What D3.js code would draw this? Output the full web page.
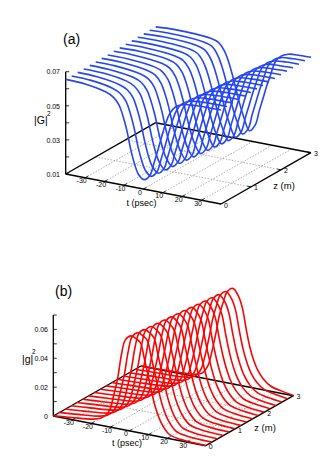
<!DOCTYPE html>
<html>
<head>
<meta charset="utf-8">
<script src="https://d3js.org/d3.v7.min.js"></script>
<style>
html, body { margin: 0; padding: 0; background: #fff; }
svg { display: block; font-family: "Liberation Sans", Arial, sans-serif; }
</style>
</head>
<body>
<div id="chart"></div>
<script>
const w = 327;
const h = 462;

// sample times of each curve: two fixed ones, then offsets around the dip / peak, then the end
const sampleOffsets = [-20, -16, -13, -11, -9, -7, -5, -3, 0, 3, 5, 7, 9, 11, 13, 16, 20, 26];
const zValues = [0, 0.2, 0.4, 0.6, 0.8, 1, 1.2, 1.4, 1.6, 1.8, 2, 2.2, 2.4, 2.6, 2.8, 3];

const tTicks = [-30, -20, -10, 0, 10, 20, 30];
const zTicks = [0, 1, 2, 3];

// (a) where the dip sits on each curve, and |G|^2 x 10^4
const gCentres = [0.5, 1.0, 1.5, 2.1, 2.6, 3.1, 3.6, 4.1, 4.7, 5.2, 5.7, 6.2, 6.7, 7.3, 7.8, 8.3];
const gValues = [
    [655, 650, 627, 605, 565, 505, 425, 318, 235, 180, 156, 190, 265, 345, 430, 510, 570, 617, 640, 648, 651],
    [655, 651, 629, 607, 567, 508, 428, 323, 240, 184, 156, 191, 266, 346, 431, 510, 571, 618, 641, 649, 652],
    [656, 652, 631, 610, 570, 511, 432, 328, 244, 187, 156, 191, 268, 348, 432, 511, 572, 619, 642, 649, 652],
    [656, 654, 633, 612, 572, 514, 435, 332, 249, 191, 157, 192, 269, 349, 433, 511, 573, 620, 642, 650, 653],
    [657, 655, 635, 615, 574, 516, 438, 337, 254, 195, 157, 193, 270, 350, 434, 511, 574, 620, 643, 651, 653],
    [657, 656, 637, 617, 577, 519, 442, 342, 258, 198, 157, 193, 272, 352, 435, 512, 575, 621, 644, 651, 654],
    [658, 657, 639, 620, 579, 522, 445, 347, 263, 202, 157, 194, 273, 353, 436, 512, 576, 622, 645, 652, 655],
    [658, 658, 641, 622, 581, 525, 448, 352, 268, 206, 157, 195, 274, 354, 437, 512, 577, 623, 646, 653, 655],
    [659, 660, 643, 625, 584, 528, 452, 356, 272, 209, 158, 195, 276, 356, 438, 513, 578, 624, 646, 653, 656],
    [659, 661, 645, 627, 586, 531, 455, 361, 277, 213, 158, 196, 277, 357, 439, 513, 579, 625, 647, 654, 656],
    [660, 662, 647, 630, 588, 534, 458, 366, 282, 217, 158, 197, 278, 358, 440, 513, 580, 626, 648, 655, 657],
    [660, 663, 649, 632, 591, 537, 462, 371, 286, 220, 158, 197, 280, 360, 441, 514, 581, 627, 649, 655, 658],
    [661, 664, 651, 635, 593, 539, 465, 376, 291, 224, 158, 198, 281, 361, 442, 514, 582, 627, 650, 656, 658],
    [661, 666, 653, 637, 595, 542, 468, 380, 296, 228, 159, 199, 282, 362, 443, 514, 583, 628, 650, 657, 659],
    [662, 667, 655, 640, 598, 545, 472, 385, 300, 231, 159, 199, 284, 364, 444, 515, 584, 629, 651, 657, 659],
    [662, 668, 657, 642, 600, 548, 475, 390, 305, 235, 159, 200, 285, 365, 445, 515, 585, 630, 652, 658, 660]
];

// (b) where the peak sits on each curve, and |g|^2 x 10^4
const sCentres = [0.8, 1.3, 1.8, 2.3, 2.8, 3.3, 3.8, 4.2, 4.7, 5.2, 5.7, 6.2, 6.7, 7.2, 7.7, 8.2];
const sValues = [
    [2, 15, 32, 48, 80, 125, 230, 350, 520, 625, 660, 645, 625, 520, 410, 290, 190, 95, 30, 10, 2],
    [2, 14, 31, 47, 81, 130, 236, 357, 522, 625, 660, 643, 619, 512, 401, 283, 186, 94, 30, 10, 2],
    [2, 13, 30, 46, 82, 134, 242, 365, 525, 626, 660, 641, 614, 504, 392, 277, 182, 92, 31, 11, 2],
    [2, 13, 29, 45, 83, 139, 248, 372, 527, 626, 660, 639, 608, 496, 383, 270, 178, 91, 31, 11, 2],
    [1, 12, 27, 45, 84, 144, 254, 379, 529, 626, 661, 637, 602, 488, 374, 263, 174, 90, 31, 11, 2],
    [1, 11, 26, 44, 85, 148, 260, 387, 532, 627, 661, 635, 597, 480, 365, 257, 170, 88, 32, 12, 2],
    [1, 10, 25, 43, 86, 153, 266, 394, 534, 627, 661, 633, 591, 472, 356, 250, 166, 87, 32, 12, 2],
    [1, 9, 24, 42, 87, 158, 272, 401, 536, 627, 661, 631, 585, 464, 347, 243, 162, 86, 32, 12, 2],
    [1, 9, 23, 41, 88, 162, 278, 409, 539, 628, 661, 629, 580, 456, 338, 237, 158, 84, 33, 13, 2],
    [1, 8, 22, 40, 89, 167, 284, 416, 541, 628, 661, 627, 574, 448, 329, 230, 154, 83, 33, 13, 2],
    [1, 7, 21, 39, 90, 172, 290, 423, 543, 628, 661, 625, 568, 440, 320, 223, 150, 82, 33, 13, 2],
    [1, 6, 20, 38, 91, 176, 296, 431, 546, 629, 661, 623, 563, 432, 311, 217, 146, 80, 34, 14, 2],
    [0, 5, 18, 38, 92, 181, 302, 438, 548, 629, 662, 621, 557, 424, 302, 210, 142, 79, 34, 14, 2],
    [0, 5, 17, 37, 93, 186, 308, 445, 550, 629, 662, 619, 551, 416, 293, 203, 138, 78, 34, 14, 2],
    [0, 4, 16, 36, 94, 190, 314, 453, 553, 630, 662, 617, 546, 408, 284, 197, 134, 76, 35, 15, 2],
    [0, 3, 15, 35, 95, 195, 320, 460, 555, 630, 662, 615, 540, 400, 275, 190, 130, 75, 35, 15, 2]
];

const gTicks = [0.01, 0.02, 0.03, 0.04, 0.05, 0.06, 0.07];
const gLabels = ["0.01", "", "0.03", "", "0.05", "", "0.07"];
const sTicks = [0, 0.01, 0.02, 0.03, 0.04, 0.05, 0.06, 0.07];
const sLabels = ["0", "", "0.02", "", "0.04", "", "0.06", ""];

let svg = d3.select("#chart").append("svg")
    .attr("width", w)
    .attr("height", h);

drawPanel({
    origin: [65.7, 174], tEnd: [221, 204], zEnd: [155.7, 122.7],
    vDomain: [0.01, 0.07], vTop: 71.7,
    centres: gCentres, values: gValues, color: "#2545f2",
    vTicks: gTicks, vLabels: gLabels, vLabelX: 60,
    letter: "(a)", letterPos: [63, 44],
    yLabel: "|G|", yLabelPos: [34, 124], supPos: [47, 116],
    tLabelPos: [141.5, 205.5], zLabelPos: [284, 188.5]
});

drawPanel({
    origin: [53.3, 416], tEnd: [205.7, 445.7], zEnd: [141, 366],
    vDomain: [0, 0.07], vTop: 315,
    centres: sCentres, values: sValues, color: "#f50606",
    vTicks: sTicks, vLabels: sLabels, vLabelX: 48,
    letter: "(b)", letterPos: [55, 296],
    yLabel: "|g|", yLabelPos: [22, 363], supPos: [32, 354],
    tLabelPos: [127, 446], zLabelPos: [265, 431]
});

function drawPanel(p) {
    let g = svg.append("g");

    // oblique floor: t runs down to the right, z runs up to the right
    let tx = d3.scaleLinear().domain([-40, 40]).range([0, p.tEnd[0] - p.origin[0]]);
    let ty = d3.scaleLinear().domain([-40, 40]).range([0, p.tEnd[1] - p.origin[1]]);
    let zx = d3.scaleLinear().domain([0, 3]).range([0, p.zEnd[0] - p.origin[0]]);
    let zy = d3.scaleLinear().domain([0, 3]).range([0, p.zEnd[1] - p.origin[1]]);
    let vy = d3.scaleLinear().domain(p.vDomain).range([0, p.vTop - p.origin[1]]);

    let px = (t, z) => p.origin[0] + tx(t) + zx(z);
    let py = (t, z, v) => p.origin[1] + ty(t) + zy(z) + vy(v === undefined ? p.vDomain[0] : v);

    function seg(t0, z0, t1, z1) {
        return g.append("line")
            .attr("x1", px(t0, z0)).attr("y1", py(t0, z0))
            .attr("x2", px(t1, z1)).attr("y2", py(t1, z1));
    }

    // grid
    tTicks.forEach(t => seg(t, 0, t, 3).attr("stroke", "#8c8c8c").attr("stroke-width", 0.7).attr("stroke-dasharray", "1.5,1.5"));
    [1, 2].forEach(z => seg(-40, z, 40, z).attr("stroke", "#8c8c8c").attr("stroke-width", 0.7).attr("stroke-dasharray", "1.5,1.5"));

    // floor outline
    [[-40, 0, 40, 0], [40, 0, 40, 3], [40, 3, -40, 3], [-40, 3, -40, 0]].forEach(s => {
        seg(s[0], s[1], s[2], s[3]).attr("stroke", "#000").attr("stroke-width", 1.4);
    });

    // floor ticks
    tTicks.forEach(t => {
        g.append("line")
            .attr("x1", px(t, 0)).attr("y1", py(t, 0))
            .attr("x2", px(t, 0) + zx(0.1)).attr("y2", py(t, 0) + zy(0.1))
            .attr("stroke", "#000").attr("stroke-width", 0.8);
        g.append("text")
            .attr("x", px(t, 0) - 3.5).attr("y", py(t, 0) + 5.6)
            .attr("text-anchor", "middle").attr("font-size", 7)
            .text(t);
    });
    zTicks.forEach(z => {
        g.append("line")
            .attr("x1", px(40, z)).attr("y1", py(40, z))
            .attr("x2", px(40, z) - tx(-38)).attr("y2", py(40, z) - ty(-38))
            .attr("stroke", "#000").attr("stroke-width", 0.8);
        g.append("text")
            .attr("x", px(40, z) + 3).attr("y", py(40, z) + 3.5)
            .attr("font-size", 7)
            .text(z);
    });

    // vertical axis
    g.append("line")
        .attr("x1", p.origin[0]).attr("y1", p.origin[1])
        .attr("x2", p.origin[0]).attr("y2", p.vTop)
        .attr("stroke", "#000").attr("stroke-width", 1.3);
    p.vTicks.forEach((v, i) => {
        let y = p.origin[1] + vy(v);
        g.append("line")
            .attr("x1", p.origin[0]).attr("y1", y)
            .attr("x2", p.origin[0] + 3.5).attr("y2", y)
            .attr("stroke", "#000").attr("stroke-width", 0.8);
        g.append("text")
            .attr("x", p.vLabelX).attr("y", y + 2.7)
            .attr("text-anchor", "end").attr("font-size", 7)
            .text(p.vLabels[i]);
    });

    // curves
    let line = d3.line()
        .x(d => px(d[0], d[1]))
        .y(d => py(d[0], d[1], d[2]))
        .curve(d3.curveCatmullRom.alpha(0.5));

    zValues.forEach((z, i) => {
        let times = [-40, -30].concat(sampleOffsets.map(o => p.centres[i] + o), [40]);
        let pts = times.map((t, j) => [t, z, p.values[i][j] / 10000]);
        g.append("path")
            .attr("d", line(pts))
            .attr("fill", "none")
            .attr("stroke", p.color)
            .attr("stroke-width", 1.6);
    });

    // labels
    g.append("text").attr("x", p.letterPos[0]).attr("y", p.letterPos[1]).attr("font-size", 14).text(p.letter);
    g.append("text").attr("x", p.yLabelPos[0]).attr("y", p.yLabelPos[1]).attr("font-size", 10.5).text(p.yLabel);
    g.append("text").attr("x", p.supPos[0]).attr("y", p.supPos[1]).attr("font-size", 6.5).text("2");
    g.append("text").attr("x", p.tLabelPos[0]).attr("y", p.tLabelPos[1]).attr("text-anchor", "middle").attr("font-size", 9).text("t (psec)");
    g.append("text").attr("x", p.zLabelPos[0]).attr("y", p.zLabelPos[1]).attr("text-anchor", "middle").attr("font-size", 9.5).text("z (m)");
}
</script>
</body>
</html>
